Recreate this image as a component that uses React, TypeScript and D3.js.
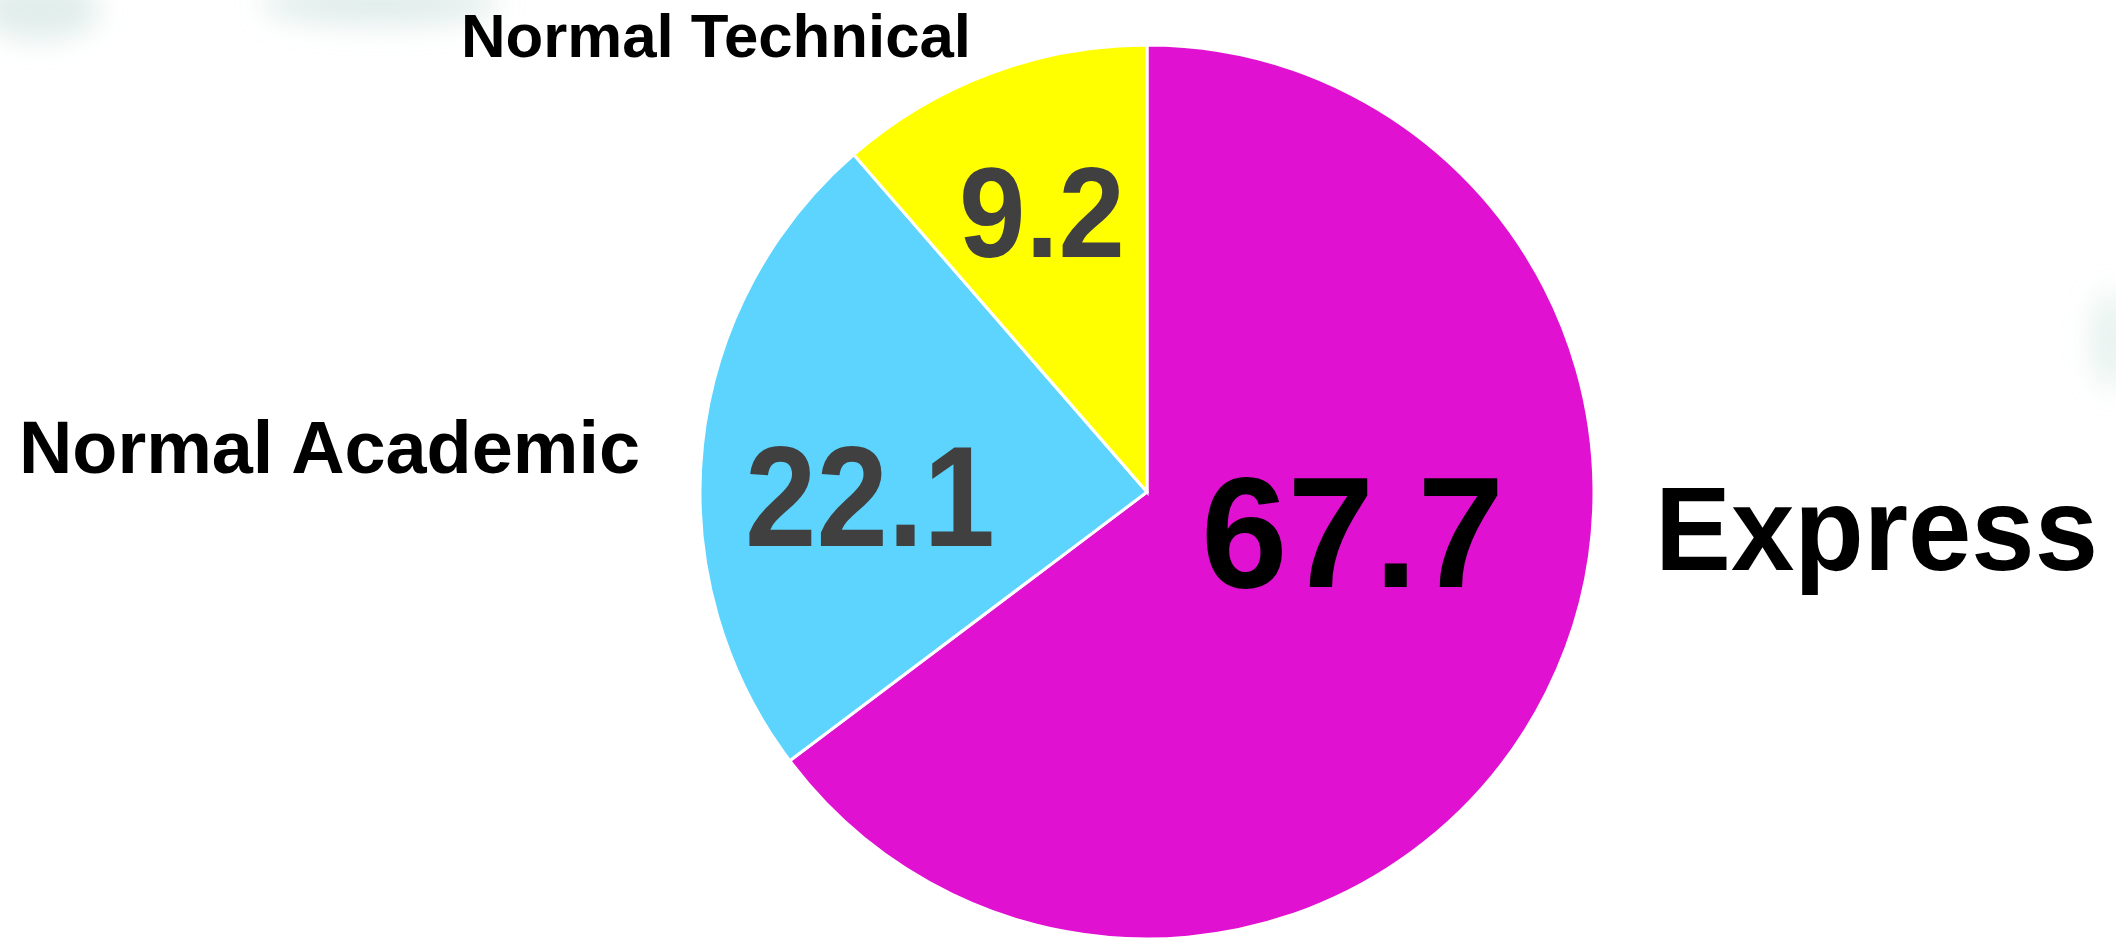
import { useEffect, useRef } from 'react';
import * as d3 from 'd3';

// categories in drawing order (clockwise from 12 o'clock)
const categories = ['Express', 'Normal Academic', 'Normal Technical'];
// values printed on the slices
const valueLabels = ['67.7', '22.1', '9.2'];
const sliceShares = [64.8, 23.9, 11.4];
const sliceColors = ['#e011d0', '#5cd4fe', '#ffff00'];
const valueColors = ['#000000', '#404040', '#404040'];

const WIDTH = 2116;
const HEIGHT = 941;

export default function App() {
  const svgRef = useRef<SVGSVGElement>(null);

  useEffect(() => {
    if (!svgRef.current) return;
    document.body.style.margin = '0';

    const svg = d3.select(svgRef.current);
    svg.selectAll('*').remove();

    const cx = 1147;
    const cy = 492;
    const radius = 447;

    // faint blurred background smudges
    const defs = svg.append('defs');
    defs.append('filter')
      .attr('id', 'blur')
      .attr('x', '-50%').attr('y', '-50%')
      .attr('width', '200%').attr('height', '200%')
      .append('feGaussianBlur')
      .attr('stdDeviation', 14);

    const smudges = [
      { x: 40, y: 10, rx: 60, ry: 30, o: 0.35 },
      { x: 380, y: 4, rx: 120, ry: 22, o: 0.35 },
      { x: 2110, y: 340, rx: 18, ry: 50, o: 0.3 }
    ];
    svg.append('g')
      .attr('filter', 'url(#blur)')
      .selectAll('ellipse')
      .data(smudges)
      .join('ellipse')
      .attr('cx', d => d.x)
      .attr('cy', d => d.y)
      .attr('rx', d => d.rx)
      .attr('ry', d => d.ry)
      .attr('fill', '#a9cfc6')
      .attr('opacity', d => d.o);

    const pie = d3.pie<number>().sort(null).value(d => d);
    const arcs = pie(sliceShares);
    const arc = d3.arc<d3.PieArcDatum<number>>().innerRadius(0).outerRadius(radius);

    const g = svg.append('g').attr('transform', `translate(${cx},${cy})`);

    g.selectAll('path')
      .data(arcs)
      .join('path')
      .attr('d', arc)
      .attr('fill', (_, i) => sliceColors[i])
      .attr('stroke', '#ffffff')
      .attr('stroke-width', 3)
      .attr('stroke-linejoin', 'miter');

    // value labels inside the slices (offsets from pie centre)
    const valuePos = [
      { dx: 54, dy: 95, size: 158, w: 303 },
      { dx: -402, dy: 54, size: 142, w: 250 },
      { dx: -188, dy: -235, size: 128, w: 166 }
    ];
    valueLabels.forEach((v, i) => {
      const p = valuePos[i];
      g.append('text')
        .attr('x', p.dx)
        .attr('y', p.dy)
        .attr('font-family', '"Liberation Sans", Arial, sans-serif')
        .attr('font-weight', 700)
        .attr('font-size', p.size)
        .attr('fill', valueColors[i])
        .attr('textLength', p.w)
        .attr('lengthAdjust', 'spacingAndGlyphs')
        .text(v);
    });

    // category labels outside the pie
    const catPos = [
      { x: 1655, y: 570, size: 118, w: 443 },
      { x: 19, y: 473, size: 74, w: 621 },
      { x: 461, y: 57, size: 62, w: 510 }
    ];
    categories.forEach((c, i) => {
      const p = catPos[i];
      svg.append('text')
        .attr('x', p.x)
        .attr('y', p.y)
        .attr('font-family', '"Liberation Sans", Arial, sans-serif')
        .attr('font-weight', 700)
        .attr('font-size', p.size)
        .attr('fill', '#000000')
        .attr('textLength', p.w)
        .attr('lengthAdjust', 'spacingAndGlyphs')
        .text(c);
    });
  }, []);

  return (
    <svg
      ref={svgRef}
      width={WIDTH}
      height={HEIGHT}
      style={{ position: 'absolute', left: 0, top: 0, background: '#ffffff', display: 'block' }}
    />
  );
}
